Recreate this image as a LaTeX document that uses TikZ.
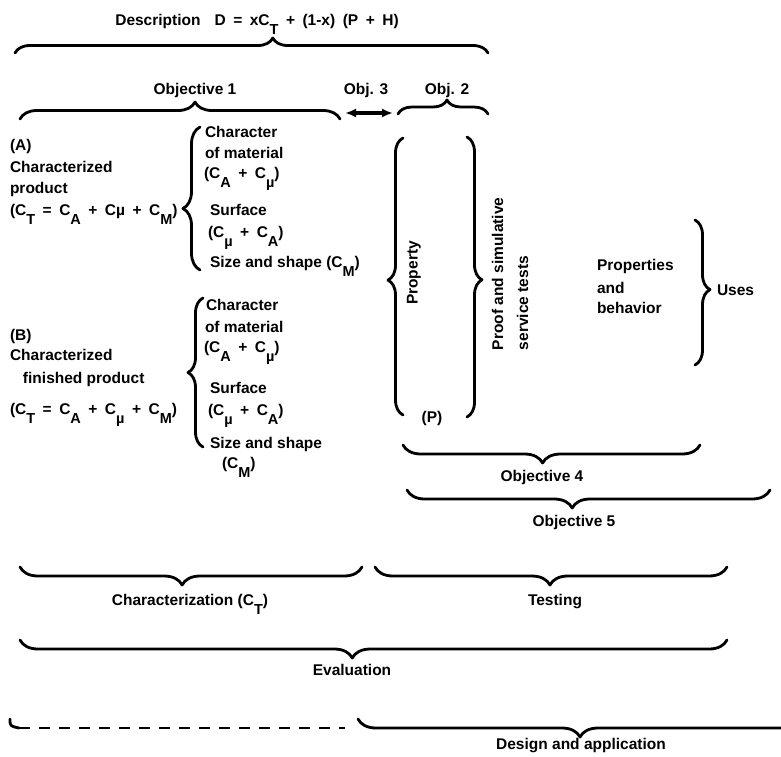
\documentclass[tikz,border=0pt]{standalone}
\usepackage{fontspec}
\setmainfont{Liberation Sans}
\usetikzlibrary{decorations.pathreplacing,arrows.meta}
\newcommand\sbx[1]{\raisebox{-9pt}{\fontsize{14.5}{14.5}\selectfont #1}}
\newcommand\gapp{\hspace{7.5pt}}
\begin{document}
\begin{tikzpicture}[x=1pt,y=-1pt,line width=2.8pt,line cap=round,line join=round,
  every node/.style={font=\fontsize{15.5}{20}\selectfont\bfseries,inner sep=0pt,outer sep=0pt},
  br/.style 2 args={decorate,decoration={brace,amplitude=#1,aspect=#2}},
  lt/.style={anchor=base west},
  ct/.style={anchor=base}]
\useasboundingbox (0,0) rectangle (781,756);

% ---- top labels and braces
\node[ct] (desc) at (257,25) {Description\hspace{14pt}D\gapp=\gapp xC\sbx{T}\gapp+\gapp(1-x)\gapp(P\gapp+\gapp H)};
\coordinate (tL) at (15,53); \coordinate (tR) at (488,53);
\draw[br={15pt}{0.545}] (tL) -- (tR);

\node[ct] (obj1) at (195,94) {Objective 1};
\coordinate (o1L) at (20,119); \coordinate (o1R) at (340,119);
\draw[br={17pt}{0.547}] (o1L) -- (o1R);

\node[ct] (obj3) at (366,94) {Obj. 3};
\coordinate (a3L) at (345,113); \coordinate (a3R) at (393,113);
\draw[{Latex[length=11pt,width=9pt]}-{Latex[length=11pt,width=9pt]},line width=3.2pt] (a3L) -- (a3R);

\node[ct] (obj2) at (447,94) {Obj. 2};
\coordinate (o2L) at (398,114); \coordinate (o2R) at (488,114);
\draw[br={14pt}{0.544}] (o2L) -- (o2R);

% ---- block A
\node[lt] (a1) at (10,150) {(A)};
\node[lt] (a2) at (10,172) {Characterized};
\node[lt] (a3) at (10,193) {product};
\node[lt] (a4) at (10,215) {(C\sbx{T}\gapp=\gapp C\sbx{A}\gapp+\gapp Cµ\gapp+\gapp C\sbx{M})};
\coordinate (bAb) at (200,270); \coordinate (bAt) at (200,127);
\draw[br={17pt}{0.43}] (bAb) -- (bAt);
\node[lt] (ar1) at (205,137) {Character};
\node[lt] (ar2) at (205,158) {of material};
\node[lt] (ar3) at (204,178) {(C\sbx{A}\gapp+\gapp C\sbx{µ})};
\node[lt] (ar4) at (210,215) {Surface};
\node[lt] (ar5) at (208,237) {(C\sbx{µ}\gapp+\gapp C\sbx{A})};
\node[lt] (ar6) at (210,267) {Size and shape (C\sbx{M})};

% ---- block B
\node[lt] (b1) at (10,340) {(B)};
\node[lt] (b2) at (10,360) {Characterized};
\node[lt] (b3) at (23,383) {finished product};
\node[lt] (b4) at (10,414) {(C\sbx{T}\gapp=\gapp C\sbx{A}\gapp+\gapp C\sbx{µ}\gapp+\gapp C\sbx{M})};
\coordinate (bBb) at (203,447); \coordinate (bBt) at (203,298);
\draw[br={15pt}{0.50}] (bBb) -- (bBt);
\node[lt] (br1) at (206,310) {Character};
\node[lt] (br2) at (205,332) {of material};
\node[lt] (br3) at (204,352) {(C\sbx{A}\gapp+\gapp C\sbx{µ})};
\node[lt] (br4) at (210,393) {Surface};
\node[lt] (br5) at (208,415) {(C\sbx{µ}\gapp+\gapp C\sbx{A})};
\node[lt] (br6) at (210,448) {Size and shape};
\node[lt] (br7) at (222,468) {(C\sbx{M})};

% ---- property / proof
\coordinate (pB) at (403,415); \coordinate (pT) at (403,138);
\draw[br={15pt}{0.487}] (pB) -- (pT);
\node[rotate=90] (prop) at (414,273) {Property};
\node[ct] (pp) at (432,422) {(P)};
\coordinate (qT) at (467,137); \coordinate (qB) at (467,417);
\draw[br={15pt}{0.51}] (qT) -- (qB);
\node[rotate=90,anchor=west,align=left,font=\fontsize{15.5}{25}\selectfont\bfseries] (proof) at (510,350) {Proof and simulative\\service tests};

% ---- properties / uses
\node[lt] (pr1) at (597,270) {Properties};
\node[lt] (pr2) at (597,293) {and};
\node[lt] (pr3) at (597,313) {behavior};
\coordinate (uT) at (695,220); \coordinate (uB) at (695,365);
\draw[br={15pt}{0.48}] (uT) -- (uB);
\node[lt] (uses) at (717,295) {Uses};

% ---- objectives 4, 5
\coordinate (o4R) at (700,445); \coordinate (o4L) at (403,445);
\draw[br={18pt}{0.53}] (o4R) -- (o4L);
\node[ct] (obj4) at (542,481) {Objective 4};
\coordinate (o5R) at (770,490); \coordinate (o5L) at (407,490);
\draw[br={18pt}{0.545}] (o5R) -- (o5L);
\node[ct] (obj5) at (574,526) {Objective 5};

% ---- characterization / testing
\coordinate (cR) at (362,567); \coordinate (cL) at (20,567);
\draw[br={18pt}{0.526}] (cR) -- (cL);
\node[ct] (char) at (190,605) {Characterization (C\sbx{T})};
\coordinate (tsR) at (727,567); \coordinate (tsL) at (375,567);
\draw[br={18pt}{0.503}] (tsR) -- (tsL);
\node[ct] (test) at (555,605) {Testing};

% ---- evaluation
\coordinate (eR) at (727,640); \coordinate (eL) at (20,640);
\draw[br={18pt}{0.53}] (eR) -- (eL);
\node[ct] (eval) at (352,675) {Evaluation};

% ---- design and application
\coordinate (dh) at (10,719); \coordinate (dh2) at (19,728); \coordinate (dE) at (345,728);
\draw (dh) .. controls (10,726) .. (dh2);
\draw[dash pattern=on 11pt off 9pt,line cap=butt] (dh2) -- (dE);
\begin{scope}
\clip (0,0) rectangle (781,756);
\coordinate (dR) at (802,719); \coordinate (dL) at (358,719);
\draw[br={18pt}{0.5}] (dR) -- (dL);
\end{scope}
\node[ct] (design) at (581,749) {Design and application};
\end{tikzpicture}
\end{document}
